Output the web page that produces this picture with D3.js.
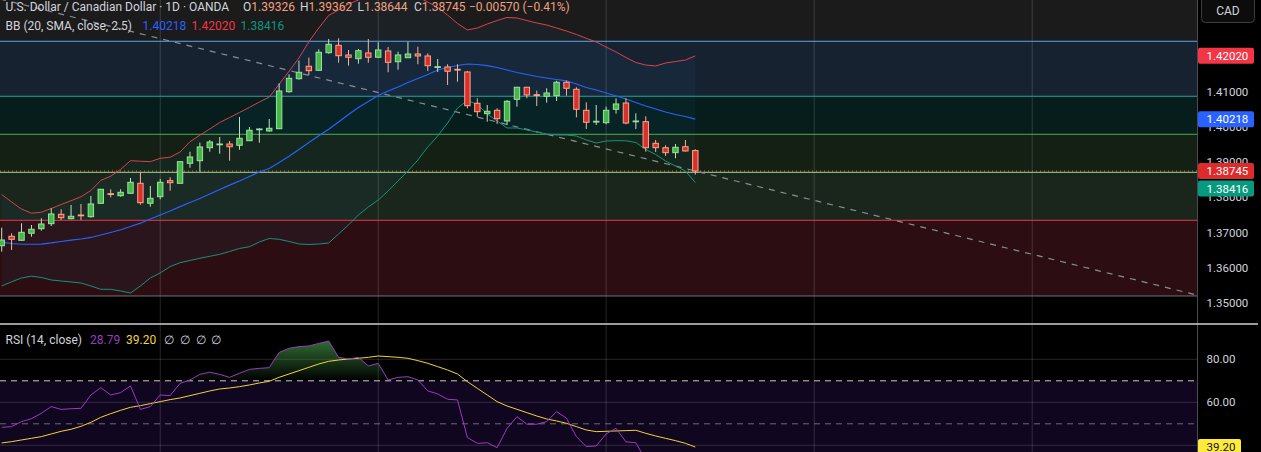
<!DOCTYPE html>
<html><head><meta charset="utf-8">
<script src="https://cdn.jsdelivr.net/npm/d3@7"></script>
<style>
html,body{margin:0;padding:0;background:#000;overflow:hidden}
svg{display:block}
text{font-family:Roboto,"Liberation Sans",sans-serif}
</style></head><body>
<svg id="c" width="1261" height="452"></svg>
<script>
// ---------- DATA ----------
const openP = [1.36621,1.36889,1.36775,1.36974,1.37105,1.37247,1.37514,1.37389,1.37494,1.37446,
1.37827,1.38100,1.38043,1.38111,1.38396,1.37827,1.38015,1.38470,1.38396,1.38964,
1.39038,1.39408,1.39493,1.39513,1.39476,1.39607,1.39920,1.39883,1.39948,1.41000,
1.41370,1.41723,1.41609,1.42109,1.42320,1.42044,1.41939,1.42101,1.41979,1.42158,
1.41853,1.41967,1.42072,1.42016,1.41694,1.41703,1.41637,1.41561,1.40671,1.40375,
1.40471,1.40167,1.40784,1.41126,1.40915,1.40870,1.40887,1.41268,1.41069,1.40471,
1.40139,1.40119,1.40500,1.40679,1.40147,1.40147,1.39533,1.39408,1.39266,1.39436,
1.39326];
const highP = [1.37133,1.36974,1.37258,1.37210,1.37400,1.37685,1.37656,1.37779,1.37807,1.38035,
1.38235,1.38225,1.38225,1.38546,1.38709,1.38319,1.38518,1.38566,1.39015,1.39294,
1.39550,1.39627,1.39712,1.39598,1.40281,1.39997,1.39960,1.40224,1.41239,1.41495,
1.41882,1.41967,1.42206,1.42499,1.42519,1.42186,1.42215,1.42499,1.42405,1.42271,
1.42138,1.42422,1.42280,1.42092,1.41930,1.41780,1.41780,1.41589,1.40813,1.40622,
1.40528,1.40764,1.41135,1.41135,1.41029,1.41097,1.41313,1.41313,1.41126,1.40699,
1.40622,1.40574,1.40813,1.40813,1.40386,1.40301,1.39627,1.39476,1.39513,1.39627,
1.39362];
const lowP = [1.36451,1.36499,1.36763,1.36877,1.37048,1.37181,1.37352,1.37372,1.37352,1.37418,
1.37807,1.37998,1.38015,1.38091,1.37787,1.37730,1.37941,1.38185,1.38390,1.38839,
1.38726,1.39294,1.39237,1.39038,1.39351,1.39600,1.39550,1.39863,1.39940,1.40972,
1.41342,1.41475,1.41589,1.42081,1.41825,1.41740,1.41797,1.41825,1.41970,1.41552,
1.41626,1.41960,1.41780,1.41589,1.41561,1.41191,1.41285,1.40528,1.40290,1.40147,
1.40082,1.40053,1.40574,1.40813,1.40594,1.40688,1.40736,1.40887,1.40272,1.39940,
1.40053,1.40073,1.40375,1.40073,1.39940,1.39294,1.39286,1.39172,1.39107,1.39294,
1.38644];
const closeP = [1.36783,1.36803,1.37002,1.37088,1.37238,1.37523,1.37418,1.37457,1.37474,1.37807,
1.38225,1.38083,1.38140,1.38424,1.37844,1.37969,1.38424,1.38413,1.39010,1.39144,
1.39428,1.39570,1.39513,1.39436,1.39675,1.39903,1.39940,1.39960,1.41020,1.41381,
1.41552,1.41598,1.42121,1.42348,1.42024,1.41979,1.42166,1.41979,1.42186,1.41836,
1.42044,1.42072,1.42016,1.41740,1.41711,1.41581,1.41617,1.40602,1.40432,1.40443,
1.40233,1.40727,1.41126,1.40907,1.40898,1.40963,1.41268,1.41097,1.40500,1.40130,
1.40159,1.40471,1.40651,1.40110,1.40167,1.39408,1.39408,1.39266,1.39419,1.39315,
1.38745];
const bbBasis = [1.36721,1.36684,1.36662,1.36662,1.36664,1.36699,1.36741,1.36778,1.36812,1.36855,
1.36926,1.36997,1.37074,1.37168,1.37261,1.37381,1.37495,1.37608,1.37731,1.37850,
1.37964,1.38092,1.38220,1.38342,1.38461,1.38589,1.38717,1.38817,1.38987,1.39163,
1.39357,1.39556,1.39746,1.39934,1.40139,1.40352,1.40551,1.40721,1.40892,1.41020,
1.41134,1.41262,1.41375,1.41489,1.41617,1.41688,1.41745,1.41788,1.41773,1.41739,
1.41688,1.41617,1.41546,1.41489,1.41432,1.41389,1.41347,1.41310,1.41219,1.41119,
1.41048,1.40963,1.40878,1.40792,1.40693,1.40593,1.40508,1.40423,1.40352,1.40295,
1.40218];
const bbUpper = [1.38077,1.37864,1.37664,1.37545,1.37573,1.37679,1.37792,1.37900,1.38014,1.38191,
1.38478,1.38597,1.38791,1.39038,1.39024,1.39012,1.39106,1.39137,1.39285,1.39578,
1.39763,1.39939,1.40124,1.40266,1.40409,1.40556,1.40707,1.40846,1.41210,1.41583,
1.41958,1.42422,1.42811,1.43170,1.43323,1.43494,1.43608,1.43721,1.43864,1.43864,
1.43807,1.43778,1.43693,1.43551,1.43394,1.43181,1.42939,1.42755,1.42811,1.42925,
1.43025,1.43110,1.43096,1.43025,1.42954,1.42897,1.42811,1.42726,1.42627,1.42518,
1.42413,1.42271,1.42129,1.41973,1.41830,1.41759,1.41731,1.41816,1.41859,1.41901,
1.42020];
const bbLower = [1.35475,1.35594,1.35702,1.35754,1.35717,1.35646,1.35617,1.35589,1.35560,1.35475,
1.35381,1.35381,1.35333,1.35276,1.35475,1.35702,1.35845,1.36027,1.36137,1.36200,
1.36263,1.36319,1.36376,1.36456,1.36541,1.36592,1.36726,1.36826,1.36803,1.36740,
1.36669,1.36655,1.36669,1.36698,1.36954,1.37210,1.37494,1.37721,1.37920,1.38176,
1.38461,1.38745,1.39058,1.39427,1.39740,1.40110,1.40536,1.40750,1.40636,1.40366,
1.40167,1.39968,1.39968,1.39911,1.39854,1.39797,1.39769,1.39769,1.39740,1.39627,
1.39541,1.39598,1.39607,1.39604,1.39555,1.39356,1.39214,1.39029,1.38887,1.38745,
1.38416];
const rsiVals = [48.37,48.68,51.0,52.4,54.9,58.0,56.7,57.0,57.2,63.4,
66.8,63.4,64.5,67.6,56.7,58.0,63.4,63.1,68.8,70.4,
73.0,74.0,73.0,71.6,73.5,75.3,75.8,76.1,83.2,85.1,
85.9,86.2,87.4,88.5,80.9,80.1,80.9,76.9,78.1,70.4,
71.6,71.9,70.4,65.3,63.9,61.4,61.1,43.6,40.9,41.2,
38.9,47.9,53.3,49.8,49.8,51.0,55.7,52.6,44.0,39.4,
39.7,45.3,47.9,41.6,41.2,33.0,32.0,30.5,32.2,31.0,
28.79];
const rsiMA = [41.09,41.70,42.48,43.25,44.03,45.27,46.51,47.44,48.83,50.69,
53.02,54.72,56.27,57.67,58.45,59.38,60.31,61.24,62.01,63.10,
64.18,65.27,66.20,66.66,67.28,68.06,68.99,69.76,71.62,73.17,
74.72,76.27,77.82,79.06,79.68,80.15,80.46,80.92,81.54,81.23,
80.92,80.46,79.37,78.13,76.58,75.03,73.17,69.61,66.51,63.41,
60.31,58.29,56.74,55.19,53.64,52.25,51.32,50.23,48.68,47.13,
46.36,46.51,46.67,46.82,46.98,45.58,44.34,43.25,42.17,40.93,
39.20];
const zoneLevels = [1.42434,1.40870,1.39789,1.38708,1.37343,1.35191];
const trendIdx = [-0.17,120.6];
const trendPrice = [1.43636,1.35219];
const monthStartIdx = [16,38,61,82,104];
const priceTicks = [1.35,1.36,1.37,1.38,1.39,1.40,1.41,1.42];
const rsiTicks = [80,60];
const rsiGrid = [80,60,40];
const rsiBands = [70,50];

// ---------- STYLES / LAYOUT ----------
const W=1261,H=452,plotR=1197.5,mainBottom=323,rsiTop=325;
const zoneFills=['#172231','#061d1c','#132013','#1a251b','#2c0e12'];
const zoneLines=['#5fa8e8','#26a69a','#4caf50','#a9d89a','#f23645','#6f727b'];
const gridCol='rgba(255,255,255,0.15)';

const svg=d3.select('#c');
const x=d3.scaleLinear().domain([0,70]).range([1.7,695.3]);
const y=d3.scaleLinear().domain([1.35,1.41]).range([302.7,91.7]);
const ry=d3.scaleLinear().domain([40,80]).range([445.3,359.3]);
const N=closeP.length, idx=d3.range(N);

svg.append('rect').attr('width',W).attr('height',H).attr('fill','#000');
const defs=svg.append('defs');
defs.append('clipPath').attr('id','cm').append('rect').attr('x',0).attr('y',0).attr('width',plotR).attr('height',mainBottom);
defs.append('clipPath').attr('id','cr').append('rect').attr('x',0).attr('y',rsiTop).attr('width',plotR).attr('height',H-rsiTop);
const grad=defs.append('linearGradient').attr('id','ob').attr('gradientUnits','userSpaceOnUse')
  .attr('x1',0).attr('x2',0).attr('y1',ry(70)).attr('y2',ry(100));
grad.append('stop').attr('offset','0%').attr('stop-color','#4caf50').attr('stop-opacity',0);
grad.append('stop').attr('offset','100%').attr('stop-color','#4caf50').attr('stop-opacity',1);

// ---------- MAIN PANE ----------
const m=svg.append('g').attr('clip-path','url(#cm)');
m.append('rect').attr('x',0).attr('y',0).attr('width',plotR).attr('height',y(zoneLevels[0])).attr('fill','#1b1b1b');
m.selectAll('rect.zone').data(d3.pairs(zoneLevels)).join('rect').attr('class','zone')
  .attr('x',0).attr('width',plotR).attr('y',d=>y(d[0])).attr('height',d=>y(d[1])-y(d[0]))
  .attr('fill',(d,i)=>zoneFills[i]);
// BB background fill
m.append('path').datum(idx)
  .attr('d',d3.area().x(i=>x(i)).y0(i=>y(bbLower[i])).y1(i=>y(bbUpper[i])))
  .attr('fill','rgba(33,150,243,0.05)');
// grid
const gy=m.append('g').call(d3.axisLeft(y).tickValues(d3.range(1.35,1.4401,0.01)).tickSize(-plotR).tickFormat(''));
gy.select('.domain').remove();
gy.selectAll('line').attr('stroke',gridCol).attr('transform','translate('+plotR+',0)');
m.selectAll('line.vg').data(monthStartIdx).join('line').attr('class','vg')
  .attr('x1',d=>x(d)).attr('x2',d=>x(d)).attr('y1',0).attr('y2',mainBottom).attr('stroke',gridCol);
// zone level lines
m.selectAll('line.lvl').data(zoneLevels).join('line').attr('class','lvl')
  .attr('x1',0).attr('x2',plotR).attr('y1',d=>y(d)).attr('y2',d=>y(d))
  .attr('stroke',(d,i)=>zoneLines[i]).attr('stroke-width',1);
// trend line
m.append('line').attr('x1',x(trendIdx[0])).attr('y1',y(trendPrice[0])).attr('x2',x(trendIdx[1])).attr('y2',y(trendPrice[1]))
  .attr('stroke','#8a8d96').attr('stroke-width',1.2).attr('stroke-dasharray','6,6');
// current price dotted line
m.append('line').attr('x1',0).attr('x2',plotR).attr('y1',y(closeP[N-1])).attr('y2',y(closeP[N-1]))
  .attr('stroke','#e8703a').attr('stroke-width',1).attr('stroke-dasharray','1,3');
// BB lines
const ln=arr=>d3.line().x(i=>x(i)).y(i=>y(arr[i]));
m.append('path').datum(idx).attr('d',ln(bbUpper)).attr('fill','none').attr('stroke','#d8434f').attr('stroke-width',1);
m.append('path').datum(idx).attr('d',ln(bbLower)).attr('fill','none').attr('stroke','#17927b').attr('stroke-width',1);
m.append('path').datum(idx).attr('d',ln(bbBasis)).attr('fill','none').attr('stroke','#2962ff').attr('stroke-width',1.2);
// candles
const cg=m.selectAll('g.cd').data(idx).join('g').attr('class','cd');
const up=i=>closeP[i]>=openP[i];
cg.append('line').attr('x1',i=>x(i)).attr('x2',i=>x(i)).attr('y1',i=>y(highP[i])).attr('y2',i=>y(lowP[i]))
  .attr('stroke',i=>up(i)?'#bfe3bf':'#f5b39c').attr('stroke-width',1);
cg.append('rect').attr('x',i=>x(i)-2.7).attr('width',5.4)
  .attr('y',i=>y(Math.max(openP[i],closeP[i])))
  .attr('height',i=>Math.max(0.8,Math.abs(y(openP[i])-y(closeP[i]))))
  .attr('fill',i=>up(i)?'#45b649':'#dc2f2c')
  .attr('stroke',i=>up(i)?'#9be39b':'#f7a98c').attr('stroke-width',1);

// ---------- RSI PANE ----------
const r=svg.append('g').attr('clip-path','url(#cr)');
r.append('rect').attr('x',0).attr('width',plotR).attr('y',ry(70)).attr('height',H-ry(70)).attr('fill','#11061f');
r.selectAll('line.rg').data(rsiGrid).join('line').attr('class','rg')
  .attr('x1',0).attr('x2',plotR).attr('y1',d=>ry(d)).attr('y2',d=>ry(d)).attr('stroke',gridCol);
r.selectAll('line.vg').data(monthStartIdx).join('line').attr('class','vg')
  .attr('x1',d=>x(d)).attr('x2',d=>x(d)).attr('y1',rsiTop).attr('y2',H).attr('stroke',gridCol);
r.selectAll('line.band').data(rsiBands).join('line').attr('class','band')
  .attr('x1',0).attr('x2',plotR).attr('y1',d=>ry(d)).attr('y2',d=>ry(d))
  .attr('stroke',(d,i)=>i===0?'#c9c9c9':'#6a6d76').attr('stroke-dasharray','6,5');
r.append('path').datum(idx)
  .attr('d',d3.area().x(i=>x(i)).y0(ry(70)).y1(i=>ry(Math.max(70,rsiVals[i]))))
  .attr('fill','url(#ob)');
r.append('path').datum(idx).attr('d',d3.line().x(i=>x(i)).y(i=>ry(rsiMA[i])))
  .attr('fill','none').attr('stroke','#f3d33b').attr('stroke-width',1);
r.append('path').datum(idx).attr('d',d3.line().x(i=>x(i)).y(i=>ry(rsiVals[i])))
  .attr('fill','none').attr('stroke','#9a3cc0').attr('stroke-width',1);

// ---------- AXES ----------
svg.append('line').attr('x1',plotR).attr('x2',plotR).attr('y1',0).attr('y2',H).attr('stroke','#4a4c55');
svg.append('line').attr('x1',0).attr('x2',1258).attr('y1',324).attr('y2',324).attr('stroke','#cfcfcf').attr('stroke-width',1.5);
const ax=svg.append('g').attr('transform','translate('+plotR+',0)')
  .call(d3.axisRight(y).tickValues(priceTicks).tickFormat(d3.format('.5f')).tickSize(0).tickPadding(9));
ax.select('.domain').remove();
ax.selectAll('text').attr('fill','#d1d4dc').style('font-size','11.5px').style('font-family','Roboto,sans-serif');
const rax=svg.append('g').attr('transform','translate('+plotR+',0)')
  .call(d3.axisRight(ry).tickValues(rsiTicks).tickFormat(d3.format('.2f')).tickSize(0).tickPadding(9));
rax.select('.domain').remove();
rax.selectAll('text').attr('fill','#d1d4dc').style('font-size','11.5px').style('font-family','Roboto,sans-serif');

// last value labels
const lastVals=[bbUpper[N-1],bbBasis[N-1],closeP[N-1],bbLower[N-1]];
const lastBg=['#f23645','#2962ff','#dd2b2b','#089981'];
let prev=-1e9;
const lbl=lastVals.map((v,i)=>({v,i,cy:y(v)})).sort((a,b)=>a.cy-b.cy);
lbl.forEach(d=>{d.cy=Math.max(d.cy,prev+17.6);prev=d.cy;});
const lg=svg.selectAll('g.lv').data(lbl).join('g').attr('class','lv');
lg.append('rect').attr('x',plotR+0.5).attr('y',d=>d.cy-8).attr('width',56).attr('height',16).attr('rx',2).attr('fill',d=>lastBg[d.i]);
lg.append('text').attr('x',plotR+9).attr('y',d=>d.cy).attr('dy','0.35em').attr('fill','#fff').style('font-size','11.5px')
  .text(d=>d3.format('.5f')(d.v));
const rl=svg.append('g');
rl.append('rect').attr('x',plotR+0.5).attr('y',ry(rsiMA[N-1])-8).attr('width',43).attr('height',16).attr('rx',2).attr('fill','#ffeb3b');
rl.append('text').attr('x',plotR+9).attr('y',ry(rsiMA[N-1])).attr('dy','0.35em').attr('fill','#131313').style('font-size','11.5px')
  .text(d3.format('.2f')(rsiMA[N-1]));

// CAD button
svg.append('rect').attr('x',1201.5).attr('y',-4).attr('width',53).attr('height',26.5).attr('rx',4)
  .attr('fill','#0c0c0c').attr('stroke','#3a3c44');
svg.append('text').attr('x',1228).attr('y',11).attr('dy','0.35em').attr('text-anchor','middle')
  .attr('fill','#d1d4dc').style('font-size','12px').text('CAD');

// ---------- LEGENDS ----------
const fs='12px';
function t(xp,yp,str,col){svg.append('text').attr('x',xp).attr('y',yp).attr('dy','0.35em').attr('fill',col).style('font-size',fs).text(str);}
const fmt5=d3.format('.5f');
const valCol='#f2a07f';
t(5.5,7,'U.S. Dollar / Canadian Dollar · 1D · OANDA','#d1d4dc');
const ohlcLab=['O','H','L','C'], ohlcVal=[openP[N-1],highP[N-1],lowP[N-1],closeP[N-1]], ohlcX=[243,300,357.5,414];
ohlcLab.forEach((l,i)=>{
  const tx=svg.append('text').attr('x',ohlcX[i]).attr('y',7).attr('dy','0.35em').style('font-size',fs);
  tx.append('tspan').attr('fill','#d1d4dc').text(l);
  tx.append('tspan').attr('fill',valCol).text(fmt5(ohlcVal[i]));
});
const chg=closeP[N-1]-closeP[N-2];
t(469,7,'−'+Math.abs(chg).toFixed(5)+' (−'+Math.abs(chg/closeP[N-2]*100).toFixed(2)+'%)',valCol);
t(5.5,26,'BB (20, SMA, close, 2.5)','#d1d4dc');
t(142.5,26,fmt5(bbBasis[N-1]),'#2962ff');
t(191.5,26,fmt5(bbUpper[N-1]),'#f23645');
t(240.5,26,fmt5(bbLower[N-1]),'#089981');
t(5.5,340,'RSI (14, close)','#d1d4dc');
t(90,340,rsiVals[N-1].toFixed(2),'#9a3cc0');
t(126,340,rsiMA[N-1].toFixed(2),'#f3d33b');
[164,180,195.5,211].forEach(xx=>t(xx,340,'∅','#d1d4dc'));
</script>
</body></html>
